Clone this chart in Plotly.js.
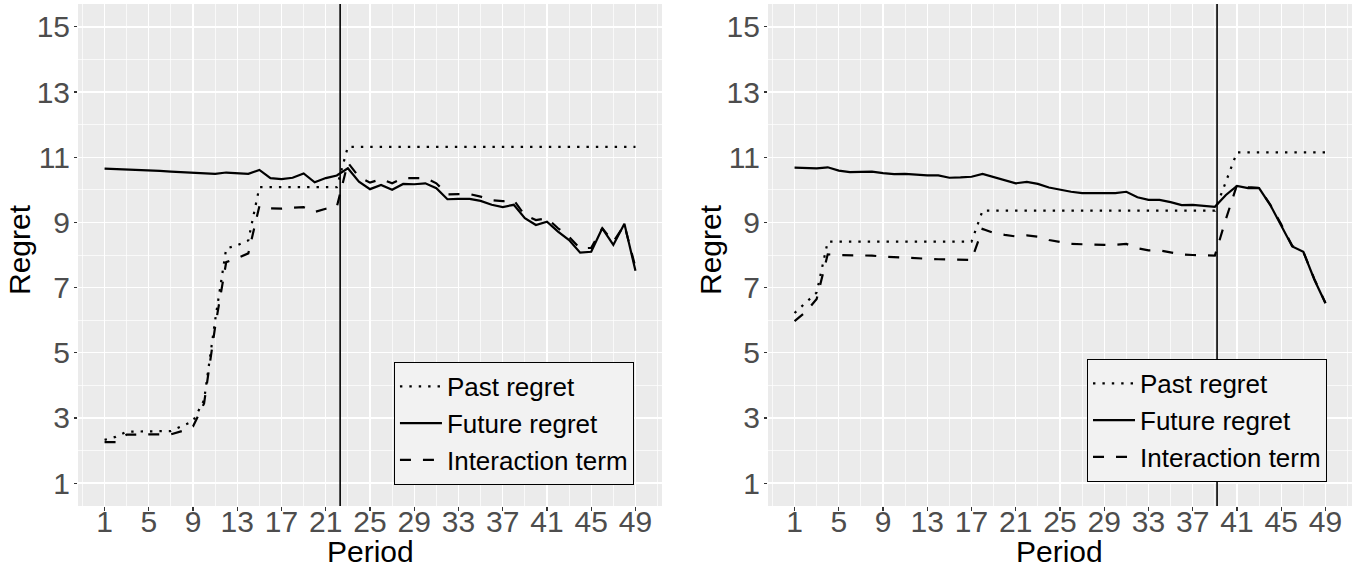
<!DOCTYPE html>
<html><head><meta charset="utf-8">
<script src="https://cdn.plot.ly/plotly-3.0.1.min.js"></script>
<style>html,body{margin:0;padding:0;background:#fff}#chart{width:1356px;height:567px}</style>
</head><body><div id="chart"></div>
<script>
const periods = [1,2,3,4,5,6,7,8,9,10,11,12,13,14,15,16,17,18,19,20,21,22,23,24,25,26,27,28,29,30,31,32,33,34,35,36,37,38,39,40,41,42,43,44,45,46,47,48,49];
const seriesNames = ['Past regret','Future regret','Interaction term'];
const xTickLabels = ['1','5','9','13','17','21','25','29','33','37','41','45','49'];
const yTickLabels = ['1','3','5','7','9','11','13','15'];
const xTitle = 'Period';
const yTitle = 'Regret';

// Left panel
const pastLeft = [2.33,2.42,2.58,2.58,2.58,2.58,2.6,2.75,2.9,3.55,6.0,8.2,8.3,8.45,10.08,10.08,10.08,10.08,10.08,10.08,10.08,10.08,11.32,11.32,11.32,11.32,11.32,11.32,11.32,11.32,11.32,11.32,11.32,11.32,11.32,11.32,11.32,11.32,11.32,11.32,11.32,11.32,11.32,11.32,11.32,11.32,11.32,11.32,11.32];
const futureLeft = [10.65,10.64,10.63,10.61,10.6,10.58,10.56,10.54,10.52,10.5,10.49,10.53,10.5,10.49,10.61,10.36,10.33,10.37,10.5,10.23,10.36,10.44,10.66,10.25,10.02,10.15,10.0,10.18,10.17,10.2,10.05,9.71,9.72,9.72,9.66,9.54,9.47,9.54,9.13,8.92,9.02,8.72,8.46,8.07,8.1,8.82,8.31,8.96,7.52];
const interLeft = [2.26,2.26,2.49,2.49,2.49,2.49,2.5,2.6,2.74,3.45,5.8,7.78,7.9,8.05,9.5,9.43,9.42,9.45,9.47,9.32,9.42,9.48,10.83,10.4,10.22,10.33,10.2,10.36,10.36,10.36,10.2,9.86,9.87,9.87,9.79,9.68,9.65,9.68,9.22,9.07,9.13,8.82,8.56,8.2,8.22,8.82,8.41,8.92,7.62];

// Right panel
const pastRight = [6.22,6.55,6.85,8.41,8.41,8.41,8.41,8.41,8.41,8.41,8.41,8.41,8.41,8.41,8.41,8.41,8.41,9.36,9.36,9.36,9.36,9.36,9.36,9.36,9.36,9.36,9.36,9.36,9.36,9.36,9.36,9.36,9.36,9.36,9.36,9.36,9.36,9.36,9.36,10.25,11.15,11.15,11.15,11.15,11.15,11.15,11.15,11.15,11.15];
const futureRight = [10.68,10.67,10.66,10.69,10.59,10.54,10.56,10.56,10.51,10.48,10.49,10.46,10.44,10.44,10.37,10.38,10.4,10.49,10.4,10.3,10.2,10.24,10.18,10.07,10.0,9.94,9.9,9.9,9.9,9.9,9.94,9.77,9.69,9.69,9.62,9.53,9.54,9.52,9.48,9.84,10.12,10.05,10.05,9.54,8.92,8.26,8.1,7.24,6.52];
const interRight = [5.97,6.25,6.65,8.02,8.0,8.0,7.98,7.98,7.95,7.93,7.92,7.9,7.89,7.87,7.86,7.85,7.85,8.8,8.68,8.62,8.57,8.6,8.56,8.46,8.39,8.34,8.33,8.31,8.31,8.31,8.34,8.21,8.14,8.14,8.08,8.02,8.0,8.0,7.98,9.1,10.15,10.08,10.06,9.55,8.94,8.28,8.1,7.26,6.53];

const cutoffPeriods = [22.3, 39.2];

const FONT = 'Liberation Sans, Arial, Helvetica, sans-serif';
const dashes = ['2.4px,7px','solid','11px,12px'];

function mk(y, i, xa, ya, lg) {
  return {x: periods, y: y, type: 'scatter', mode: 'lines', name: seriesNames[i],
    xaxis: xa, yaxis: ya, legend: lg,
    line: {color: '#000', width: 2.2, dash: dashes[i]}, hoverinfo: 'skip'};
}

const traces = [
  mk(pastLeft, 0, 'x', 'y', 'legend'),
  mk(futureLeft, 1, 'x', 'y', 'legend'),
  mk(interLeft, 2, 'x', 'y', 'legend'),
  mk(pastRight, 0, 'x2', 'y2', 'legend2'),
  mk(futureRight, 1, 'x2', 'y2', 'legend2'),
  mk(interRight, 2, 'x2', 'y2', 'legend2')
];

function xAxis(domain, anchor) {
  return {domain: domain, anchor: anchor, range: [-1.4, 51.4], tickmode: 'array',
    tickvals: xTickLabels.map(Number), ticktext: xTickLabels,
    showgrid: true, gridcolor: '#ffffff', gridwidth: 1.4, zeroline: false, showline: false,
    ticks: 'outside', ticklen: 4, tickwidth: 1.1, tickcolor: '#333333',
    ticklabelstandoff: -15,
    tickfont: {family: FONT, size: 30, color: '#4d4d4d'},
    minor: {tick0: 1, dtick: 2, showgrid: true, gridcolor: '#ffffff', gridwidth: 0.7, ticks: ''},
    automargin: false, fixedrange: true};
}
function yAxis(anchor) {
  return {domain: [0, 1], anchor: anchor, range: [0.3, 15.7], tickmode: 'array',
    tickvals: yTickLabels.map(Number), ticktext: yTickLabels,
    showgrid: true, gridcolor: '#ffffff', gridwidth: 1.4, zeroline: false, showline: false,
    ticks: 'outside', ticklen: 3, tickwidth: 1.1, tickcolor: '#333333',
    ticklabelstandoff: -2,
    tickfont: {family: FONT, size: 30, color: '#4d4d4d'},
    minor: {tick0: 0, dtick: 1, showgrid: true, gridcolor: '#ffffff', gridwidth: 0.7, ticks: ''},
    automargin: false, fixedrange: true};
}

const legendCommon = {xanchor: 'left', yanchor: 'top', bgcolor: '#f2f2f2', bordercolor: '#000',
  borderwidth: 1, font: {family: FONT, size: 26, color: '#000'}, tracegroupgap: 0, itemwidth: 42};

const titleFont = {family: FONT, size: 30, color: '#000'};
// plot area: x 78..1352 px, y 4..506 px
const annotations = [
  {text: xTitle, xref: 'paper', yref: 'paper', x: 0.2292, y: -0.091, xanchor: 'center', yanchor: 'middle', showarrow: false, font: titleFont},
  {text: xTitle, xref: 'paper', yref: 'paper', x: 0.7708, y: -0.091, xanchor: 'center', yanchor: 'middle', showarrow: false, font: titleFont},
  {text: yTitle, xref: 'paper', yref: 'paper', x: -0.0455, y: 0.51, xanchor: 'center', yanchor: 'middle', textangle: -90, showarrow: false, font: titleFont},
  {text: yTitle, xref: 'paper', yref: 'paper', x: 0.4969, y: 0.51, xanchor: 'center', yanchor: 'middle', textangle: -90, showarrow: false, font: titleFont}
];

const layout = {
  width: 1356, height: 567,
  margin: {l: 78, r: 4, t: 4, b: 61, pad: 0},
  paper_bgcolor: '#ffffff', plot_bgcolor: '#ebebeb',
  font: {family: FONT},
  showlegend: true,
  xaxis: xAxis([0, 0.4584], 'y'),
  yaxis: yAxis('x'),
  xaxis2: xAxis([0.5416, 1], 'y2'),
  yaxis2: yAxis('x2'),
  legend: Object.assign({x: 0.248, y: 0.287}, legendCommon),
  legend2: Object.assign({x: 0.792, y: 0.293}, legendCommon),
  annotations: annotations,
  shapes: [
    {type: 'line', xref: 'x', yref: 'y domain', x0: cutoffPeriods[0], x1: cutoffPeriods[0], y0: 0, y1: 1, line: {color: '#000', width: 1.6}},
    {type: 'line', xref: 'x2', yref: 'y2 domain', x0: cutoffPeriods[1], x1: cutoffPeriods[1], y0: 0, y1: 1, line: {color: '#000', width: 1.6}}
  ]
};

Plotly.newPlot('chart', traces, layout, {staticPlot: true, displayModeBar: false});
</script></body></html>
